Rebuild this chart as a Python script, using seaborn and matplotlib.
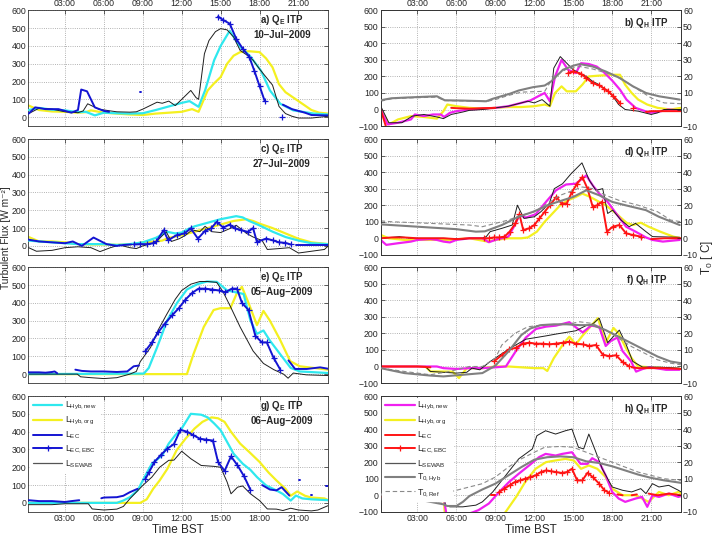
import numpy as np
import pandas as pd
import seaborn as sns
import matplotlib
matplotlib.use("Agg")
import matplotlib.pyplot as plt
from matplotlib.lines import Line2D

# ----------------------------------------------------------------------------
# DATA  (hour of day, value); None breaks a line into separate pieces
# left panels: latent heat flux Q_E [W m-2]; right panels: Q_H [W m-2], T0 [C]
# ----------------------------------------------------------------------------
A_HYB_NEW = [(0.2, 40), (1, 52), (2, 42), (3, 38), (4, 28), (4.6, 30), (5.3, 10), (6, 25), (7, 22), (8, 20),
             (9, 22), (10, 40), (11, 60), (12, 80), (12.6, 90), (13.3, 58), (13.8, 150), (14.5, 320), (15, 400),
             (15.7, 485), (16.5, 395), (17.3, 340), (18.1, 262), (18.8, 150), (19.6, 75), (20.6, 38), (22.2, 20),
             (23.3, 15)]
A_HYB_ORG = [(0.2, 65), (1, 40), (2, 32), (3, 30), (4, 25), (4.6, 28), (5, 38), (6, 25), (7, 20), (8, 15), (9, 12),
             (10, 20), (11, 25), (12, 30), (12.8, 45), (13.3, 30), (14, 150), (14.5, 190), (15, 225), (15.5, 300),
             (16, 345), (16.5, 365), (17.2, 370), (18, 365), (18.5, 330), (19, 280), (19.5, 185), (20, 140),
             (21, 90), (22, 40), (22.6, 25), (23.3, 20)]
A_SEWAB = [(0.2, 20), (1, 50), (2, 45), (3, 30), (4, 25), (4.4, 35), (4.75, 75), (5.6, 45), (6.5, 35), (7, 30),
           (8, 28), (8.5, 30), (9, 45), (10.1, 84), (10.5, 78), (11, 90), (11.5, 65), (12, 100), (12.7, 150),
           (13.1, 110), (13.3, 100), (13.75, 356), (14.1, 430), (14.6, 480), (15, 497), (15.5, 490), (16, 450),
           (16.5, 375), (17, 350), (17.5, 320), (18, 270), (18.5, 225), (19, 180), (19.5, 60), (20, 20),
           (20.5, 5), (21, -5), (22, -5), (23.3, 5)]
A_EC = [(0.2, 20), (0.7, 55), (1.5, 45), (2.5, 45), (3, 35), (3.5, 25), (4, 40), (4.25, 155), (4.7, 145),
        (5.3, 55), (6, 35), (6.4, 30), None, (8.75, 140), (8.85, 140), None, (19.8, 70), (20.5, 45), (21, 35),
        (21.5, 25), (22, 12), (23, 10), (23.3, 10)]
A_EBC = [(14.8, 565), (15.2, 545), (15.7, 525), (16.2, 440), (16.7, 385), (17.2, 340), (17.6, 260), (18.0, 175),
         (18.4, 90), None, (19.7, 0)]

B_HYB_NEW = [(0.17, 0), (0.7, -90), (1.5, -80), (2.5, -60), (2.8, -30), (3.5, -40), (4.2, -30), (4.8, -30),
             (5.05, -45), (5.5, -20), (6, -10), (7, 0), (8, 5), (9, 10), (10, 20), (11, 40), (11.7, 55),
             (12.3, 80), (12.8, 100), (13.2, 50), (13.6, 200), (14.1, 300), (14.6, 240), (15.2, 220), (15.6, 280),
             (16.2, 275), (16.8, 260), (17.3, 230), (18, 175), (18.6, 120), (19.1, 60), (19.8, 10), (20.9, -20),
             (21.5, -15), (22.3, 0), (23.3, -5)]
B_HYB_ORG = [(0.17, 0), (0.8, -90), (1.5, -60), (2.5, -40), (3.5, -45), (4.5, -55), (5.0, -10), (5.3, 30),
             (6, 20), (7, 10), (8, 5), (9, 10), (10, 15), (11, 15), (12, 20), (12.8, 30), (13.2, 20), (13.6, 100),
             (14.1, 140), (14.5, 110), (15.2, 110), (15.7, 150), (16.2, 200), (17, 205), (18, 210), (18.6, 210),
             (19, 150), (19.5, 100), (20, 60), (20.7, 30), (21.5, 10), (22.5, 0), (23.3, 10)]
B_SEWAB = [(0.17, 20), (0.8, -80), (1.8, -80), (2.6, -40), (3.5, -30), (4.5, -45), (5, -55), (5.6, -30),
           (6.5, -15), (7, -5), (8, 0), (9, 10), (10, 20), (11, 40), (11.5, 50), (12, 40), (12.6, 60), (13.2, 20),
           (13.5, 250), (14.0, 320), (14.5, 280), (15, 240), (15.5, 220), (16, 200), (16.5, 170), (17, 150),
           (17.5, 120), (18, 85), (18.5, 30), (19, 0), (20, -10), (21, -30), (21.5, -20), (22, 0), (23.3, 0)]
B_EC = [(0.17, 0), (0.6, -110), None, (5.6, 10), (6, 8), (7, 5), (8, 8), (9, 10), None, (20.6, -15), (21, -10),
        (22, -10), (23.3, -10)]
B_EBC = [(14.6, 220), (15.0, 230), (15.6, 216), (16.0, 190), (16.5, 160), (17.0, 146), (17.4, 125), (17.7, 110),
         (18.1, 80), (18.6, 40), None, (19.6, 8)]
B_T0_HYB = [(0.17, 5.6), (1, 6.8), (2.3, 7.3), (4.5, 8), (5.1, 5.6), (6.5, 5.4), (8.3, 5), (8.8, 6.5),
            (10.1, 9.5), (10.8, 11.5), (11.9, 13.5), (12.8, 14.5), (13.3, 17), (14.2, 24), (15, 26.5),
            (15.5, 27.5), (16.5, 26), (17.5, 23), (18.6, 19), (19.6, 14), (20.6, 10), (21.6, 8), (23.2, 6)]
B_T0_REF = [(0.17, 5), (1, 6.5), (2.3, 7), (4.5, 7.5), (5.1, 5.4), (6.5, 5.2), (8.3, 4.8), (9, 6), (10, 8.5),
            (11, 10.5), (12, 10.8), (12.8, 11), (13.5, 20), (14.5, 24.5), (15.5, 26), (16.5, 24.5), (18, 21),
            (19, 17), (20, 12), (21, 7), (22, 4), (23.3, 3.5)]

C_HYB_NEW = [(0.2, 30), (1, 25), (2, 20), (3, 15), (4, 10), (5, 10), (6, 10), (7, 5), (8, 10), (9, 20), (10, 45),
             (10.9, 79), (11.5, 70), (12, 75), (12.5, 95), (13, 110), (14, 130), (15, 150), (16.2, 167),
             (16.7, 160), (17.2, 140), (18, 115), (19, 80), (20, 50), (21, 30), (22, 15), (23.3, 10)]
C_HYB_ORG = [(0.2, 50), (1, 25), (2, 25), (3, 20), (4, 10), (5, 8), (6, 8), (7, 6), (8, 8), (9, 20), (10, 25),
             (10.5, 30), (11, 45), (12, 60), (13, 80), (14, 100), (15, 120), (16, 140), (17, 150), (17.5, 140),
             (18, 125), (19, 100), (20, 70), (21, 40), (22, 20), (23.3, 10)]
C_SEWAB = [(0.2, -10), (0.8, -30), (2, -25), (3, -10), (4, -5), (5, -10), (5.7, -32), (6.5, -10), (7.2, 5),
           (8, -10), (8.5, -15), (9, 0), (10, 20), (10.8, 80), (11.2, 25), (11.8, 40), (12.3, 60), (12.8, 90),
           (13.4, 80), (13.8, 110), (14.3, 80), (15, 75), (15.8, 100), (16.2, 116), (17, 70), (17.5, 50),
           (18.2, 30), (18.6, -20), (19.5, -15), (20.3, -10), (21, -40), (22, -30), (23, -20), (23.3, 0)]
C_EC = [(0.2, 35), (1, 25), (2, 20), (3, 15), (3.6, 25), (4.3, 0), (5.2, 47), (6.2, 10), (7, 0), (7.5, 5),
        (8.1, 8), None, (20.8, 5), (23.3, 5)]
C_EBC = [(8.3, 8), (8.8, 10), (9.3, 10), (9.8, 15), (10.05, 25), (10.6, 88), (10.95, 32), (11.6, 60), (12.2, 70),
         (12.7, 98), (13.25, 41), (13.8, 85), (14.25, 98), (14.7, 135), (15.2, 103), (15.7, 120), (16.1, 98),
         (16.6, 88), (17.1, 79), (17.5, 100), (17.8, 22), (18.5, 41), (19.0, 32), (19.5, 20), (20.0, 17),
         (20.4, 8)]

D_HYB_NEW = [(0.17, -10), (0.6, -40), (1.5, -30), (2.5, -20), (3, -10), (4, -5), (4.5, -10), (5, -20),
             (5.5, -25), (6, -10), (7, 0), (8, 0), (8.5, -24), (9, -10), (9.5, 0), (10, 10), (10.5, 80),
             (10.85, 140), (11.35, 125), (12.1, 145), (12.9, 220), (13.67, 290), (14.44, 325), (15.2, 330),
             (16.0, 380), (16.5, 320), (17.0, 270), (17.65, 220), (18.3, 150), (19.07, 70), (19.8, 40), (20.6, 5),
             (21.1, -10), (21.9, -20), (23.2, -10)]
D_HYB_ORG = [(0.17, 20), (0.8, 0), (2, -10), (4, -10), (5.5, -10), (7, 0), (8.4, -20), (9, -10), (10, 0), (11, 0),
             (11.5, 5), (12.2, 40), (12.8, 100), (13.4, 150), (14, 200), (14.6, 230), (15.2, 250), (15.7, 270),
             (16.3, 250), (17, 220), (17.5, 200), (18.3, 150), (19.1, 94), (19.6, 80), (20.2, 94), (20.8, 70),
             (21.7, 40), (22.7, 10), (23.3, 0)]
D_SEWAB = [(0.17, 0), (1, 5), (1.6, 10), (2.5, 0), (4, 0), (5, 0), (6.5, -5), (7, 0), (8, 0), (8.3, 10),
           (8.6, 40), (9.5, 60), (10.3, 80), (10.7, 200), (11.2, 120), (12, 130), (12.5, 160), (13.15, 210),
           (13.54, 300), (14.18, 330), (14.83, 390), (15.67, 456), (16.24, 350), (16.75, 290), (17.27, 300),
           (17.65, 150), (18.04, 170), (18.68, 110), (19.3, 70), (19.8, 90), (20.6, 40), (21.1, 10), (23.2, 6)]
D_EC = [(0.17, 0), (1, 5), (2, 5), (3, 0), (4, 0), (5, 0), (6, -5), (7, 0), (8, 0), None, (21, -5), (22, 0),
        (23.3, 0)]
D_EBC = [(8.14, 0), (8.5, 0), (8.9, 5), (9.3, 5), (9.7, 10), (10.1, 40), (10.55, 90), (10.85, 145), (11.15, 50),
         (11.6, 60), (12.0, 80), (12.4, 120), (12.8, 160), (13.2, 200), (13.7, 250), (14.1, 210), (14.5, 210),
         (14.9, 280), (15.3, 330), (15.7, 370), (16.1, 300), (16.5, 190), (16.85, 200), (17.2, 220), (17.6, 40),
         (18.04, 70), (18.55, 80), (19.07, 30), (19.58, 20), (20.2, 10)]
D_T0_HYB = [(0.17, 8.4), (3, 7), (6, 5.5), (7.5, 4), (8.2, 4.2), (9.5, 8), (10.8, 13), (11.9, 16), (13.4, 21),
            (15, 25), (16, 29), (17, 26), (18, 22), (19, 20), (20.6, 17), (21.6, 13), (23.2, 8)]
D_T0_REF = [(0.17, 10.5), (1, 10), (4, 9), (7, 8), (8, 7), (9, 9), (10, 11), (11, 14), (12, 16), (13, 21),
            (14, 26), (15, 29), (15.7, 31), (16.5, 30), (17.5, 26), (18.5, 23), (20, 20), (21.5, 16), (22.5, 11),
            (23.3, 10)]

E_HYB_NEW = [(0.2, 0), (9.08, 3), (9.46, 35), (10.1, 150), (10.87, 300), (11.64, 400), (12.4, 475), (13.2, 505),
             (13.95, 520), (14.7, 518), (15.5, 470), (16.0, 462), (16.77, 450), (17.3, 300), (17.8, 226),
             (18.3, 245), (18.8, 188), (19.6, 111), (20.4, 35), (21.1, 15), (23.3, 6)]
E_HYB_ORG = [(0.2, 0), (12.4, 0), (12.9, 111), (13.7, 265), (14.46, 360), (14.97, 370), (15.75, 370),
             (16.26, 456), (16.64, 490), (17.15, 400), (17.8, 275), (18.3, 355), (18.8, 300), (19.6, 190),
             (20.36, 73), (21.1, 44), (23.3, 25)]
E_SEWAB = [(0.2, 0), (3.95, 0), (4.2, -15), (5, -20), (6, -25), (7, -20), (7.5, -10), (8, 0), (8.5, 15),
           (8.8, 70), (9.6, 150), (10.2, 250), (10.8, 330), (11.5, 420), (12, 470), (12.7, 505), (13.4, 520),
           (14.0, 520), (14.7, 515), (15.2, 460), (15.75, 380), (16.5, 265), (17.5, 130), (18.3, 60), (19.1, 25),
           (19.85, 0), (20.2, -23), (20.6, 6), (21.6, -4), (23.3, -8)]
E_EC = [(0.2, 10), (1, 10), (1.5, 8), (2, 12), (2.2, 15), (2.4, 5), None, (3.8, 25), (4.3, 18), (5, 15),
        (6, 15), (7, 12), (7.8, 15), (8.3, 44), (8.7, 48), None, (20.23, 77), (20.74, 29), (21.64, 29),
        (22.67, 38), (23.3, 30)]
E_EBC = [(9.2, 130), (9.7, 178), (10.2, 236), (10.7, 284), (11.26, 330), (11.77, 370), (12.28, 418),
         (12.8, 456), (13.3, 480), (13.82, 480), (14.33, 475), (14.85, 470), (15.36, 460), (15.87, 480),
         (16.26, 480), (16.64, 400), (17.15, 360), (17.67, 216), (18.18, 178), (18.56, 178), (19.08, 92),
         (19.6, 25)]

F_HYB_NEW = [(0.17, 0), (4.5, 0), (5, -10), (6, -15), (7, -10), (8, -10), (9, -5), (9.81, 0), (10.58, 93),
             (11.35, 175), (12.13, 227), (12.9, 241), (13.67, 247), (14.7, 268), (15.2, 237), (15.73, 206),
             (16.37, 247), (17.0, 240), (17.5, 124), (17.9, 155), (18.4, 175), (18.8, 93), (19.45, 31),
             (19.84, -31), (20.35, -15), (20.87, -4), (22.15, -20), (23.18, -20)]
F_HYB_ORG = [(0.17, 0), (3.6, 0), (4.0, -30), (5.7, -31), (6.2, -70), (6.8, -10), (8, -10), (9, 0), (10, 0),
             (11, -5), (12, -10), (12.7, -10), (13, -27), (13.5, 50), (14.3, 144), (14.7, 180), (15.2, 134),
             (15.7, 185), (16.2, 230), (16.9, 292), (17.5, 144), (18.1, 233), (18.5, 200), (19, 120), (19.5, 50),
             (20, 0), (21, -5), (22, -10), (23.3, -15)]
F_SEWAB = [(0.17, 0), (3.6, 0), (4.0, -30), (5, -35), (6, -40), (6.8, -35), (7.2, -10), (7.8, -20), (8.6, 30),
           (9.4, 72), (10.2, 113), (11.35, 165), (12.13, 175), (12.9, 185), (13.67, 196), (14.44, 206),
           (15.2, 216), (15.98, 247), (16.5, 257), (17.0, 292), (17.65, 144), (18.55, 220), (19.07, 134),
           (19.58, 31), (20.35, -4), (21.64, -4), (23.18, -10)]
F_EC = [(0.17, 0), (1, 0), (2, 0), (3, 0), (4, -5), None, (19.5, -5), (20, -10), (21, -10), (22, -10),
        (23.3, -15)]
F_EBC = [(8.9, 31), (9.55, 72), (10.07, 103), (10.58, 113), (11.1, 138), (11.6, 144), (12.13, 138),
         (12.64, 138), (13.15, 134), (13.67, 138), (14.2, 144), (14.7, 150), (15.2, 138), (15.73, 134),
         (16.24, 124), (16.75, 130), (17.27, 72), (17.78, 62), (18.3, 68), (18.8, 27), (19.32, 0)]
F_T0_HYB = [(0.17, -1), (2, -4), (4, -5.5), (5, -6), (6.5, -5), (8, -4), (9, 0.5), (10, 9), (10.5, 14), (11, 19),
            (11.7, 23), (12.5, 25), (13.5, 25.5), (14.5, 25.5), (15.5, 25), (16.5, 25), (17.5, 22), (18.5, 18),
            (19.5, 14), (20.5, 10), (21.5, 6), (22.5, 3), (23.3, 2)]
F_T0_REF = [(0.17, -1), (2, -3), (4, -5), (5.5, -3), (7, 0), (8, 0), (9, 5), (9.5, 13), (10.5, 20), (11.5, 24),
            (12.5, 25), (14.5, 25.5), (15.5, 27), (16.5, 26), (17.5, 22), (18.5, 17), (19.5, 12), (20.5, 8),
            (21.5, 4), (22.5, 2), (23.3, 1)]

G_HYB_NEW = [(0.2, 0), (7.0, 0), (7.5, 13), (8, 32), (8.6, 70), (9.2, 154), (9.7, 220), (10.5, 267), (11, 333),
             (11.5, 380), (12, 418), (12.7, 500), (13.5, 495), (14, 480), (14.5, 446), (15, 408), (15.5, 342),
             (16, 276), (16.7, 220), (17.3, 185), (17.8, 145), (18.5, 98), (19.3, 70), (19.8, 50), (20.4, 13),
             (20.8, 41), (21.3, 25), (22, 20), (23.3, 15)]
G_HYB_ORG = [(0.2, 0), (8.8, 0), (9.3, 20), (9.8, 79), (10.3, 126), (10.9, 192), (11.6, 295), (12.3, 361),
             (13, 418), (13.6, 455), (14.3, 480), (14.8, 475), (15.3, 455), (15.8, 399), (16.5, 333), (17.2, 286),
             (18, 230), (18.7, 170), (19.3, 126), (20, 79), (20.4, 40), (20.9, 64), (21.5, 40), (22, 30),
             (23, 25), (23.3, 15)]
G_SEWAB = [(0.2, -10), (1, -10), (2, -10), (3, -5), (4, -5), (4.8, -5), (5.1, -34), (6, -40), (7, -35),
           (7.5, -20), (8, 23), (9, 98), (9.7, 145), (10.3, 200), (11, 239), (11.4, 240), (12, 290), (12.7, 248),
           (13.5, 210), (14.5, 205), (15, 200), (15.5, 117), (15.8, 51), (16.3, 88), (16.7, 95), (17.3, 51),
           (18, 13), (18.6, -34), (19.3, -35), (19.8, -43), (20.4, -30), (21, -40), (22, -45), (22.5, -40),
           (23.3, -15)]
G_EC = [(0.2, 15), (1, 10), (2, 10), (3, 5), (3.5, 10), (4.1, 15), None, (5.8, 26), (6, 30), (7, 32),
        (7.5, 40), (8, 60), (8.6, 79), None, (18.2, 100), (18.8, 75), (19.3, 70), (19.7, 88), (20.3, 41), None,
        (21.05, 130), (21.15, 130), None, (21.95, 45), (22.05, 45), None, (23.15, 95), (23.3, 95)]
G_EBC = [(9.2, 135), (9.5, 175), (9.9, 230), (10.4, 270), (10.9, 305), (11.4, 330), (11.9, 410), (12.4, 400),
         (12.9, 380), (13.4, 360), (13.9, 355), (14.4, 350), (14.8, 230), (15.3, 179), (15.8, 261), (16.3, 211),
         (16.8, 150), (17.3, 73)]

H_HYB_NEW = [(0.17, -10), (1, -15), (2, -5), (3, 0), (4, 0), (4.5, -10), (5, 0), (5.3, -150), (7.2, -105),
             (7.7, -90), (8.5, -50), (9.3, 20), (10.05, 80), (10.8, 130), (11.6, 180), (12.36, 230), (12.87, 250),
             (13.64, 240), (14.15, 250), (14.9, 260), (15.56, 190), (16.1, 190), (16.46, 224), (17.0, 200),
             (17.5, 120), (18.0, 20), (18.5, -20), (19.0, -40), (19.8, -20), (20.3, -10), (20.7, -70), (21.1, 0),
             (21.6, -10), (22.35, 10), (23.1, -10), (23.3, -5)]
H_HYB_ORG = [(0.17, -10), (1, -15), (2, -5), (3, 0), (4, 0), (4.5, -10), (5, 0), (5.2, -200), (9.5, -130),
             (9.8, -100), (10.6, -10), (11.3, 80), (12.1, 160), (12.9, 200), (13.6, 210), (14.4, 220),
             (15.05, 210), (15.6, 160), (16.2, 180), (16.85, 160), (17.5, 110), (18.0, 40), (18.8, 0), (19.8, 0),
             (20.8, -40), (21.6, 20), (22.35, 0), (23.1, 20), (23.3, 10)]
H_SEWAB = [(0.17, -10), (1, -15), (2, -5), (3, 0), (4, 0), (4.5, -10), (5, 0), (5.15, -60), (5.5, -70),
           (6.5, -70), (7.5, -60), (8, -40), (8.8, 20), (9.8, 120), (10.8, 220), (11.85, 280), (12.2, 360),
           (12.87, 390), (13.64, 370), (14.4, 390), (14.9, 400), (15.4, 290), (15.8, 280), (16.2, 370),
           (16.7, 270), (17.23, 160), (18.0, 50), (18.8, 30), (19.5, 20), (20.2, 40), (20.6, 10), (21.1, 70),
           (21.6, 50), (22.35, 60), (23.1, 30), (23.3, 20)]
H_EC = [(0.17, -10), (1, -15), (2, -5), (3, 0), (4, 0), (4.5, -10), (5, 0), None, (8.7, 0), (9.0, 0), None,
        (18.4, 5), (18.8, 0), None, (19.5, 0), (19.9, 5), None, (20.8, 10), (21.5, 0), (22.4, 10), (23.3, 0)]
H_EBC = [(1.3, -12), None, (9.3, 20), (9.7, 40), (10.1, 60), (10.5, 80), (10.9, 90), (11.3, 100), (11.7, 110),
         (12.1, 120), (12.5, 140), (12.9, 150), (13.3, 145), (13.7, 140), (14.1, 135), (14.5, 140), (14.9, 160),
         (15.3, 90), (15.7, 90), (16.1, 136), (16.5, 110), (17.0, 70), (17.4, 30), (17.74, 16)]
H_T0_HYB = [(0.17, 0.5), (2, -1), (4, -4), (5, -5.5), (5.3, -6.5), (6, -6.5), (6.5, -4), (7, -0.5), (8, 3.5),
            (9, 7), (10, 12), (11, 17), (12, 21.5), (13, 23), (14, 23.5), (15, 23), (16, 20.5), (17, 19.5),
            (18, 17.5), (19, 15), (20, 12.5), (21, 10.5), (22, 9), (23.3, 7.5)]
H_T0_REF = [(0.17, 1), (2, -1.5), (4, -4), (5.1, -5), (5.2, 1.5), (6, 3), (7, 5), (8, 7), (9, 11), (10, 17),
            (11, 22), (12, 26), (12.8, 29), (14, 29.5), (15, 29), (16, 26), (17, 23), (18, 20), (19, 17),
            (20, 14), (21, 12), (22, 10), (23.3, 9)]

DATES = ["10–Jul–2009", "27–Jul–2009", "05–Aug–2009", "06–Aug–2009"]
HOUR_TICKS = [3, 6, 9, 12, 15, 18, 21]
HOUR_LABELS = ["03:00", "06:00", "09:00", "12:00", "15:00", "18:00", "21:00"]
LEFT_LEGEND = [r"L$_{\mathrm{Hyb,new}}$", r"L$_{\mathrm{Hyb,org}}$", r"L$_{\mathrm{EC}}$",
               r"L$_{\mathrm{EC,EBC}}$", r"L$_{\mathrm{SEWAB}}$"]
RIGHT_LEGEND = LEFT_LEGEND + [r"T$_{\mathrm{0,Hyb}}$", r"T$_{\mathrm{0,Ref}}$"]

# ----------------------------------------------------------------------------
# STYLE (MATLAB-like look)
# ----------------------------------------------------------------------------
sns.set_theme(style="white")
plt.rcParams.update({
    "font.size": 6.3,
    "axes.edgecolor": "#333333",
    "axes.linewidth": 0.6,
    "xtick.labelsize": 6.3,
    "ytick.labelsize": 6.3,
    "mathtext.fontset": "custom",
    "mathtext.rm": "Liberation Sans",
    "mathtext.it": "Liberation Sans:italic",
    "mathtext.bf": "Liberation Sans:bold",
})
plt.rcParams["font.family"] = ["Liberation Sans", "DejaVu Sans"]

CYAN, YELLOW, BLUE = "#2ee8ee", "#f4f020", "#1414d2"
MAGENTA, RED, DARK, GRAY = "#f020f0", "#ff1414", "#1e1e1e", "#808080"


def to_frame(pairs):
    """Turn (hour, value) pairs into a frame, one 'seg' id per unbroken piece."""
    rows, seg = [], 0
    for p in pairs:
        if p is None:
            seg += 1
            continue
        rows.append((p[0], p[1], seg))
    return pd.DataFrame(rows, columns=["hour", "value", "seg"])


def draw(ax, pairs, **kw):
    df = to_frame(pairs)
    sns.lineplot(data=df, x="hour", y="value", units="seg", estimator=None, sort=False,
                 legend=False, ax=ax, **kw)
    ax.set_xlabel("")
    ax.set_ylabel("")


def draw_ebc(ax, pairs, color):
    # '+' markers need an edge colour, seaborn defaults it to white
    draw(ax, pairs, color=color, linewidth=1.4, marker="+", markersize=4.5,
         markeredgewidth=0.9, markeredgecolor=color, zorder=6)


def style_axis(ax, row):
    ax.set_xlim(0.17, 23.3)
    ax.set_xticks(HOUR_TICKS)
    ax.set_xticklabels(HOUR_LABELS)
    ax.grid(True, linestyle=":", color="#9a9a9a", linewidth=0.6)
    ax.tick_params(direction="in", length=3, width=0.5, top=True, pad=1.5,
                   labeltop=(row == 0), labelbottom=(row == 3))
    if row == 3:
        ax.set_xlabel("Time BST", fontsize=8.5, labelpad=1)


fig = plt.figure(figsize=(7.14, 5.41), dpi=100)
bottoms = [0.767, 0.529, 0.292, 0.054]
height = 0.214

left_series = [
    (A_HYB_NEW, A_HYB_ORG, A_SEWAB, A_EC, A_EBC),
    (C_HYB_NEW, C_HYB_ORG, C_SEWAB, C_EC, C_EBC),
    (E_HYB_NEW, E_HYB_ORG, E_SEWAB, E_EC, E_EBC),
    (G_HYB_NEW, G_HYB_ORG, G_SEWAB, G_EC, G_EBC),
]
right_series = [
    (B_HYB_NEW, B_HYB_ORG, B_SEWAB, B_EC, B_EBC, B_T0_HYB, B_T0_REF),
    (D_HYB_NEW, D_HYB_ORG, D_SEWAB, D_EC, D_EBC, D_T0_HYB, D_T0_REF),
    (F_HYB_NEW, F_HYB_ORG, F_SEWAB, F_EC, F_EBC, F_T0_HYB, F_T0_REF),
    (H_HYB_NEW, H_HYB_ORG, H_SEWAB, H_EC, H_EBC, H_T0_HYB, H_T0_REF),
]
letters_left = ["a", "c", "e", "g"]
letters_right = ["b", "d", "f", "h"]
legend_kw = dict(loc="upper left", fontsize=6.3, handlelength=3.4, handletextpad=0.3, labelspacing=0.3,
                 borderaxespad=0.2, borderpad=0.3, frameon=True, facecolor="white", edgecolor="white",
                 framealpha=1)

for row in range(4):
    # ---------------- latent heat flux (left column) ----------------
    new, org, sewab, ec, ebc = left_series[row]
    ax = fig.add_axes([0.0396, bottoms[row], 0.4202, height])
    draw(ax, org, color=YELLOW, linewidth=1.6, zorder=2)
    draw(ax, new, color=CYAN, linewidth=1.6, zorder=3)
    draw(ax, sewab, color=DARK, linewidth=0.7, zorder=4)
    draw(ax, ec, color=BLUE, linewidth=1.4, zorder=5)
    draw_ebc(ax, ebc, BLUE)
    ax.set_ylim(-50, 600)
    ax.set_yticks(range(0, 601, 100))
    ax.tick_params(axis="y", right=True)
    style_axis(ax, row)
    ax.text(0.845, 0.915, letters_left[row] + r") Q$_{\mathbf{E}}$ ITP", transform=ax.transAxes,
            ha="center", va="center", fontsize=7, fontweight="bold")
    ax.text(0.845, 0.785, DATES[row], transform=ax.transAxes, ha="center", va="center",
            fontsize=7, fontweight="bold")
    if row == 3:
        handles = [Line2D([], [], color=CYAN, lw=1.6), Line2D([], [], color=YELLOW, lw=1.6),
                   Line2D([], [], color=BLUE, lw=1.4),
                   Line2D([], [], color=BLUE, lw=1.4, marker="+", markersize=4.5, markeredgewidth=0.9),
                   Line2D([], [], color="#555555", lw=0.9)]
        leg = ax.legend(handles, LEFT_LEGEND, **legend_kw)
        leg.set_zorder(10)

    # ---------------- sensible heat flux + T0 (right column) ----------------
    new, org, sewab, ec, ebc, t0h, t0r = right_series[row]
    ax = fig.add_axes([0.5332, bottoms[row], 0.4206, height])
    draw(ax, org, color=YELLOW, linewidth=1.6, zorder=2)
    draw(ax, new, color=MAGENTA, linewidth=1.6, zorder=3)
    draw(ax, sewab, color=DARK, linewidth=0.7, zorder=4)
    draw(ax, ec, color=RED, linewidth=1.4, zorder=5)
    draw_ebc(ax, ebc, RED)
    ax.set_ylim(-100, 600)
    ax.set_yticks(range(-100, 601, 100))
    style_axis(ax, row)
    ax.tick_params(axis="y", right=False)

    tw = ax.twinx()
    draw(tw, t0h, color=GRAY, linewidth=1.5, zorder=3)
    draw(tw, t0r, color="#8a8a8a", linewidth=0.8, linestyle=(0, (4, 2.5)), zorder=2)
    tw.set_ylim(-10, 60)
    tw.set_yticks(range(-10, 61, 10))
    tw.grid(False)
    tw.tick_params(direction="in", length=3, width=0.5, pad=1.5)
    tw.text(0.885, 0.89, letters_right[row] + r") Q$_{\mathbf{H}}$ ITP", transform=tw.transAxes,
            ha="center", va="center", fontsize=7, fontweight="bold")
    if row == 3:
        handles = [Line2D([], [], color=MAGENTA, lw=1.6), Line2D([], [], color=YELLOW, lw=1.6),
                   Line2D([], [], color=RED, lw=1.4),
                   Line2D([], [], color=RED, lw=1.4, marker="+", markersize=4.5, markeredgewidth=0.9),
                   Line2D([], [], color="#555555", lw=0.9), Line2D([], [], color=GRAY, lw=1.5),
                   Line2D([], [], color="#8a8a8a", lw=0.8, linestyle=(0, (4, 2.5)))]
        leg = tw.legend(handles, RIGHT_LEGEND, **legend_kw)
        leg.set_zorder(10)

fig.text(0.0085, 0.56, "Turbulent Flux [W m⁻²]", rotation=90, ha="center", va="center", fontsize=7.3)
fig.text(0.99, 0.523, "T$_0$ [ C]", rotation=90, ha="center", va="center", fontsize=8.5)

fig.savefig("out.png", dpi=100)
